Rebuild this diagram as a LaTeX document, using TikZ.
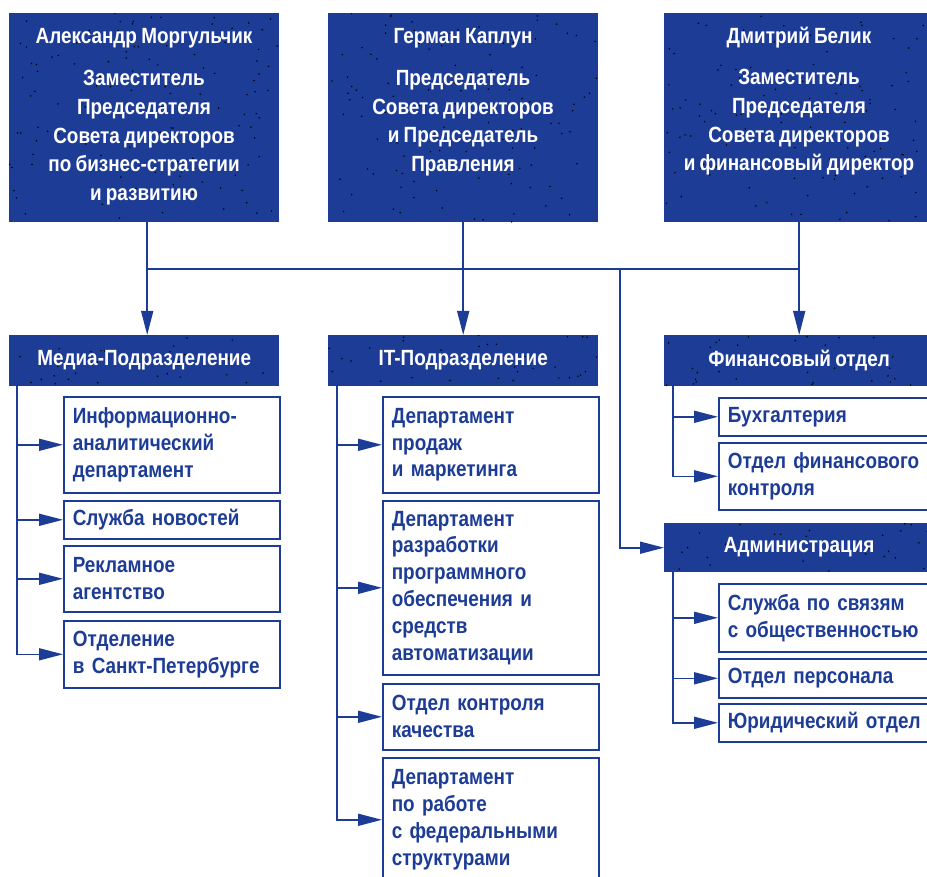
\documentclass[tikz,border=0pt]{standalone}
\usepackage{fontspec}
\setmainfont{Liberation Sans}[FakeStretch=0.86,WordSpace=0.8]
\usetikzlibrary{arrows.meta,calc}
\definecolor{bl}{RGB}{29,60,150}
\begin{document}
\begin{tikzpicture}[x=1pt,y=-1pt,
  dotfill/.style 2 args={path picture={
    \pgfmathsetseed{#1}
    \foreach \i in {1,...,#2}{
      \pgfmathsetmacro\rx{rnd}\pgfmathsetmacro\ry{rnd}
      \fill[black] let \p1=(path picture bounding box.south west), \p2=(path picture bounding box.north east) in (\x1+\rx*\x2-\rx*\x1, \y1+\ry*\y2-\ry*\y1) circle (0.85pt);
    }}},
  box/.style={fill=bl, text=white, font=\bfseries\fontsize{22}{28.8}\selectfont, inner sep=0pt, anchor=north west, minimum width=270pt},
  toptext/.style={text=white, font=\bfseries\fontsize{22}{28.8}\selectfont, inner sep=0pt, align=center},
  sub/.style={draw=bl, line width=1.6pt, text=bl, font=\bfseries\fontsize{22}{26.8}\selectfont, text width=198pt, inner xsep=9pt, inner ysep=0pt, align=left, anchor=north west, minimum height=#1},
  conn/.style={draw=bl, line width=1.6pt, -{Triangle[length=24pt,width=12pt]}},
  link/.style={draw=bl, line width=1.6pt}]
\useasboundingbox (0,0) rectangle (927,877);
\clip (0,0) rectangle (927,877);

% top boxes
\node[box, dotfill={3}{120}, minimum height=209pt] (tl) at (9,13) {};
\node[box, dotfill={5}{120}, minimum height=209pt] (tm) at (328,13) {};
\node[box, dotfill={9}{120}, minimum height=209pt] (tr) at (664,13) {};
\node[toptext, anchor=base] (tlname) at (144,44) {Александр Моргульчик};
\node[toptext, anchor=north] (tlrole) at (144,70) {Заместитель\\Председателя\\Совета директоров\\по бизнес-стратегии\\и развитию};
\node[toptext, anchor=base] (tmname) at (463,44) {Герман Каплун};
\node[toptext, anchor=north] (tmrole) at (463,70) {Председатель\\Совета директоров\\и Председатель\\Правления};
\node[toptext, anchor=base] (trname) at (799,44) {Дмитрий Белик};
\node[toptext, anchor=north] (trrole) at (799,69) {Заместитель\\Председателя\\Совета директоров\\и финансовый директор};

% header boxes
\node[box, dotfill={11}{32}, minimum height=51pt] (media) at (9,335) {Медиа-Подразделение};
\node[box, dotfill={13}{32}, minimum height=51pt] (it) at (328,335) {IT-Подразделение};
\node[box, dotfill={17}{32}, minimum height=51pt] (fin) at (664,335) {Финансовый отдел};
\node[box, dotfill={19}{32}, minimum height=49pt] (adm) at (664,523) {Администрация};

% media subs
\node[sub=96pt] (info) at (63,396) {Информационно-\\аналитический\\департамент};
\node[sub=38pt] (news) at (63,500) {Служба новостей};
\node[sub=66pt] (adv) at (63,545) {Рекламное\\агентство};
\node[sub=67pt] (spb) at (63,620) {Отделение\\в Санкт-Петербурге};

% IT subs
\node[sub=96pt] (sales) at (382,396) {Департамент\\продаж\\и маркетинга};
\node[sub=174pt] (dev) at (382,500) {Департамент\\разработки\\программного\\обеспечения и\\средств\\автоматизации};
\node[sub=66pt] (qa) at (382,683) {Отдел контроля\\качества};
\node[sub=124pt] (fed) at (382,757) {Департамент\\по работе\\с федеральными\\структурами};

% finance subs
\node[sub=38pt] (acc) at (718,397) {Бухгалтерия};
\node[sub=67pt] (fc) at (718,442) {Отдел финансового\\контроля};

% admin subs
\node[sub=68pt] (pr) at (718,583) {Служба по связям\\с общественностью};
\node[sub=39pt] (pers) at (718,658) {Отдел персонала};
\node[sub=38pt] (legal) at (718,703) {Юридический отдел};

% top connectors
\coordinate (hleft) at (147,269);
\coordinate (hright) at (800,269);
\coordinate (branch) at (620,269);
\draw[link] (hleft) -- (hright);
\draw[conn] ([xshift=3pt]tl.south) -- ([xshift=3pt]media.north);
\draw[conn] (tm.south) -- (it.north);
\draw[conn] (tr.south) -- (fin.north);
\draw[conn] (branch) |- (adm.west);

% sub connectors
\foreach \s in {info,news,adv,spb}
  \draw[conn] ([xshift=8pt]media.south west) |- (\s.west);
\foreach \s in {sales,dev,qa,fed}
  \draw[conn] ([xshift=9pt]it.south west) |- (\s.west);
\foreach \s in {acc,fc}
  \draw[conn] ([xshift=9pt]fin.south west) |- (\s.west);
\foreach \s in {pr,pers,legal}
  \draw[conn] ([xshift=9pt]adm.south west) |- (\s.west);
\end{tikzpicture}
\end{document}
